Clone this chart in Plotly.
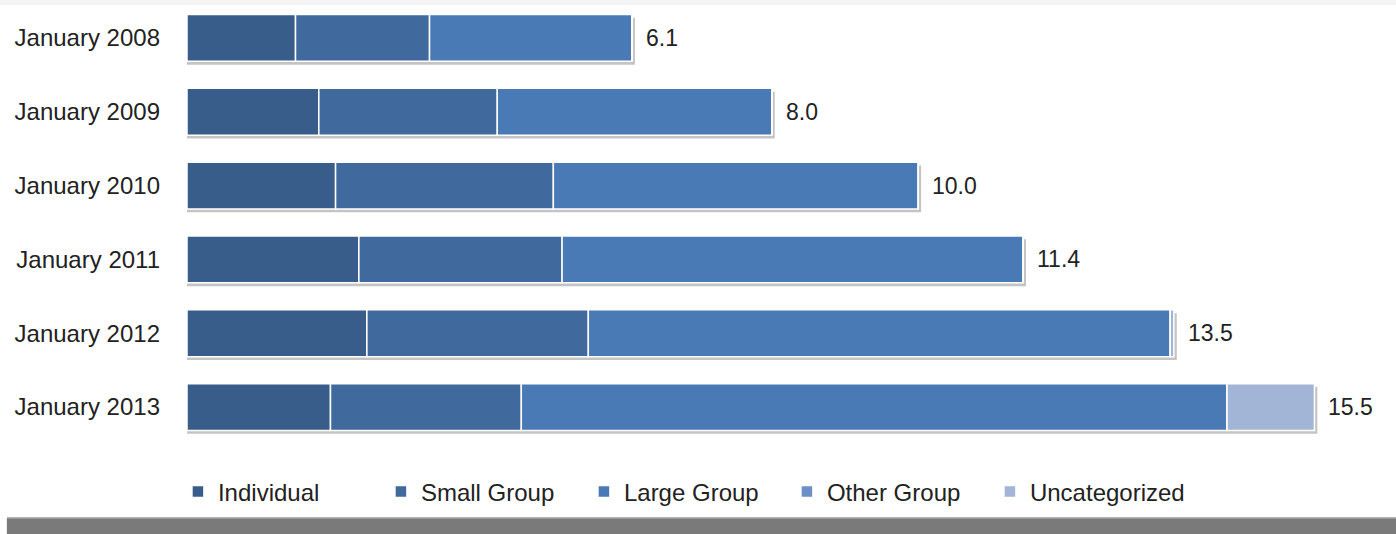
import plotly.graph_objects as go
import numpy as np

categories = ["January 2008", "January 2009", "January 2010",
              "January 2011", "January 2012", "January 2013"]
individual = [1.49, 1.81, 2.04, 2.36, 2.47, 1.97]
small_group = [1.84, 2.45, 2.99, 2.79, 3.04, 2.62]
large_group = [2.78, 3.77, 5.01, 6.33, 7.99, 9.69]
other_group = [0.0, 0.0, 0.0, 0.0, 0.0, 0.0]
uncategorized = [0.0, 0.0, 0.0, 0.0, 0.05, 1.2]
totals = [6.1, 8.0, 10.0, 11.4, 13.5, 15.5]

series = [
    ("Individual", individual, "#385d8a"),
    ("Small Group", small_group, "#40699d"),
    ("Large Group", large_group, "#4a7ab5"),
    ("Other Group", other_group, "#6b8fc8"),
    ("Uncategorized", uncategorized, "#a2b5d6"),
]

FONT = "Liberation Sans, Arial, sans-serif"
BW = 0.635
ends = np.sum([s[1] for s in series], axis=0)

fig = go.Figure()
# shadow beneath each bar
fig.add_trace(go.Bar(
    y=categories, x=ends + 0.04, orientation="h", width=BW,
    offset=-BW / 2 + 0.045, marker=dict(color="#c4c4c4", line=dict(width=0)),
    showlegend=False, hoverinfo="skip"))

base = np.zeros(len(categories))
for name, vals, col in series:
    fig.add_trace(go.Bar(
        y=categories, x=vals, base=base.copy(), orientation="h", width=BW,
        name=name, marker=dict(color=col, line=dict(color="white", width=1.5))))
    base = base + np.array(vals)

for cat, e, t in zip(categories, ends, totals):
    fig.add_annotation(x=e, y=cat, text=f"{t:.1f}", showarrow=False,
                       xanchor="left", xshift=12,
                       font=dict(family=FONT, size=23, color="#222222"))

# top light strip and bottom gray band
fig.add_shape(type="rect", xref="paper", yref="paper", x0=-0.16, x1=1.0,
              y0=0.991, y1=1.01, fillcolor="#f4f4f4", line_width=0, layer="below")
fig.add_shape(type="rect", xref="paper", yref="paper", x0=-0.149, x1=1.0,
              y0=-0.205, y1=-0.167, fillcolor="#7a7a7a", line_width=0)
fig.add_shape(type="line", xref="paper", yref="paper", x0=-0.149, x1=1.0,
              y0=-0.1665, y1=-0.1665, line=dict(color="#b5b5b5", width=1.5))

fig.update_layout(
    width=1396, height=534,
    margin=dict(l=187, r=0, t=1, b=90),
    barmode="overlay",
    plot_bgcolor="white", paper_bgcolor="white",
    font=dict(family=FONT, size=24, color="#222222"),
    showlegend=True,
    legend=dict(orientation="h", x=-0.0075, xanchor="left", y=-0.108,
                yanchor="middle", font=dict(size=24, color="#222222"),
                entrywidth=158, entrywidthmode="pixels",
                bgcolor="rgba(0,0,0,0)", itemclick=False),
    xaxis=dict(range=[0, 16.6], visible=False, showgrid=False, zeroline=False),
    yaxis=dict(autorange="reversed", showgrid=False, zeroline=False,
               showline=False, ticks="", ticklabelstandoff=26,
               tickfont=dict(size=24, color="#222222")),
)

fig.write_html("out.html", config={"displayModeBar": False},
               post_script="document.body.style.margin='0';document.body.style.overflow='hidden';")
